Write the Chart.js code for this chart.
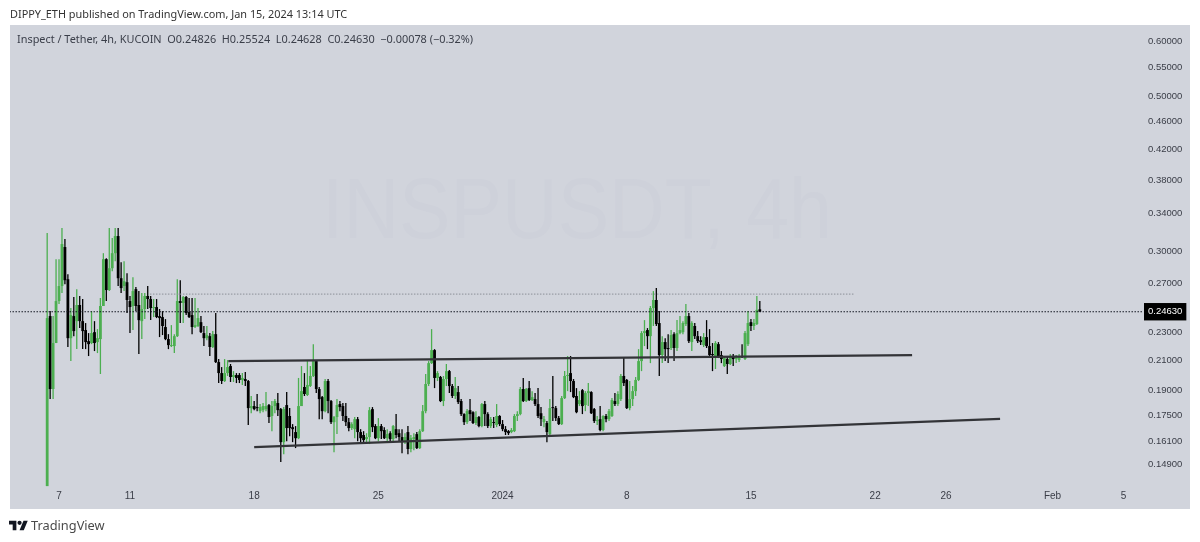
<!DOCTYPE html>
<html>
<head>
<meta charset="utf-8">
<script src="https://cdn.jsdelivr.net/npm/chart.js@4/dist/chart.umd.js"></script>
<style>
  html, body { margin: 0; padding: 0; background: #fff; width: 1200px; height: 542px; overflow: hidden; }
  #myChart { position: absolute; left: 0; top: 0; }
  .txt { position: absolute; font-family: "Noto Sans", sans-serif; white-space: pre; }
  #published { left: 10px; top: 6px; font-size: 10.9px; color: #333; }
  #ohlc { left: 17px; top: 31px; font-size: 10.9px; color: #3a3e49; }
  #tvName { left: 31px; top: 516px; font-size: 12.8px; color: #4a4a4a; }
  #tvLogo { position: absolute; left: 9px; top: 518px; }
</style>
</head>
<body>
<canvas id="myChart" width="1200" height="542"></canvas>
<div class="txt" id="published">DIPPY_ETH published on TradingView.com, Jan 15, 2024 13:14 UTC</div>
<div class="txt" id="ohlc">Inspect / Tether, 4h, KUCOIN  O0.24826  H0.25524  L0.24628  C0.24630  −0.00078 (−0.32%)</div>
<svg id="tvLogo" width="19" height="15" viewBox="0 2 36 22"><path fill="#131722" d="M14 22H7V11H0V4h14v18zM28 22h-8l7.5-18h8L28 22z"/><circle fill="#131722" cx="20" cy="8" r="4"/></svg>
<div class="txt" id="tvName">TradingView</div>
<script>
// 4h candles, first one is Dec 6 2023 08:00 UTC
const firstCandle = Date.UTC(2023, 11, 6, 8)

const opens = [
  .1388, .2428, .1910, .2222, .2551, .2680, .3047, .2741, .2258, .2428,
  .2388, .2518, .2388, .2319, .2236, .2222, .2303, .2229, .2251, .2510,
  .2928, .2645, .2842, .2986, .3159, .2750, .2680, .2714, .2551, .2510,
  .2653, .2518, .2388, .2485, .2594, .2568, .2493, .2501, .2428, .2420,
  .2342, .2251, .2200, .2200, .2273, .2551, .2535, .2585, .2460, .2436,
  .2342, .2350, .2380, .2296, .2258, .2273, .2193, .2288, .2087, .2013,
  .1961, .2013, .2060, .1987, .2000, .2000, .1968, .1974, .1961, .1794,
  .1806, .1800, .1776, .1782, .1788, .1812, .1748, .1806, .1824, .1788,
  .1604, .1812, .1748, .1685, .1658, .1625, .1806, .1923, .1873, .1929,
  .1994, .2094, .1910, .1860, .1776, .1961, .1836, .1713, .1742, .1818,
  .1806, .1748, .1713, .1680, .1674, .1730, .1658, .1642, .1620, .1631,
  .1788, .1691, .1625, .1691, .1669, .1625, .1652, .1620, .1674, .1652,
  .1631, .1604, .1658, .1568, .1620, .1647, .1573, .1663, .1776, .1942,
  .2080, .2171, .1981, .1987, .1836, .1974, .2026, .1929, .1867, .1891,
  .1836, .1759, .1713, .1782, .1770, .1708, .1742, .1691, .1818, .1759,
  .1691, .1713, .1697, .1748, .1702, .1674, .1663, .1658, .1663, .1748,
  .1759, .1910, .1836, .1916, .1842, .1848, .1818, .1764, .1713, .1708,
  .1647, .1800, .1794, .1736, .1702, .1854, .1994, .2013, .1961, .1867,
  .1818, .1903, .1812, .1885, .1891, .1788, .1719, .1730, .1669, .1748,
  .1730, .1748, .1836, .1818, .1848, .1994, .1968, .1794, .1848, .1897,
  .1968, .2094, .2296, .2319, .2273, .2493, .2560, .2373, .2136, .2229,
  .2186, .2186, .2288, .2186, .2296, .2303, .2365, .2428, .2229, .2350,
  .2273, .2243, .2207, .2266, .2200, .2143, .2129, .2214, .2136, .2060,
  .2108, .2074, .2129, .2108, .2101, .2129, .2108, .2214, .2380, .2350,
  .2365, .24826
]
const highs = [
  .3191, .2468, .2428, .2928, .2928, .3243, .3128, .2787, .2493, .2585,
  .2653, .2594, .2568, .2373, .2296, .2468, .2388, .2326, .2577, .2986,
  .2937, .3243, .3138, .3243, .3243, .2899, .2908, .2796, .2594, .2759,
  .2671, .2636, .2619, .2619, .2680, .2594, .2568, .2568, .2485, .2468,
  .2404, .2288, .2357, .2288, .2741, .2732, .2594, .2594, .2577, .2577,
  .2577, .2493, .2428, .2350, .2350, .2296, .2311, .2452, .2108, .2053,
  .2108, .2101, .2074, .2026, .2013, .2013, .2013, .2020, .1968, .1867,
  .1836, .1879, .1818, .1824, .1891, .1818, .1836, .1848, .1885, .1794,
  .1800, .1891, .1794, .1702, .1691, .1981, .2060, .2013, .2094, .2060,
  .2214, .2094, .1923, .1867, .1974, .1974, .1842, .1748, .1848, .1836,
  .1824, .1824, .1736, .1713, .1742, .1742, .1674, .1663, .1652, .1800,
  .1800, .1702, .1736, .1702, .1685, .1674, .1663, .1697, .1759, .1674,
  .1674, .1652, .1691, .1642, .1652, .1658, .1674, .1812, .2007, .2094,
  .2326, .2178, .2026, .1994, .1994, .2074, .2033, .1942, .1987, .1929,
  .1848, .1764, .1788, .1848, .1776, .1776, .1748, .1824, .1836, .1770,
  .1742, .1742, .1818, .1753, .1725, .1691, .1669, .1680, .1759, .1776,
  .1923, .1981, .1916, .1961, .1897, .1885, .1916, .1800, .1748, .1719,
  .1848, .1994, .1806, .1748, .1867, .2026, .2129, .2129, .1974, .1916,
  .1897, .1910, .1897, .1948, .1897, .1794, .1748, .1806, .1753, .1759,
  .1788, .1854, .1885, .1897, .2007, .2115, .1974, .1961, .1929, .1987,
  .2178, .2311, .2396, .2334, .2510, .2636, .2662, .2468, .2273, .2258,
  .2288, .2319, .2303, .2396, .2428, .2388, .2526, .2452, .2388, .2373,
  .2311, .2273, .2296, .2396, .2326, .2222, .2236, .2229, .2164, .2129,
  .2122, .2143, .2143, .2136, .2143, .2214, .2311, .2468, .2404, .2404,
  .2594, .25524
]
const lows = [
  .1388, .1848, .1848, .2222, .2526, .2619, .2697, .2193, .2094, .2273,
  .2178, .2334, .2178, .2178, .2129, .2214, .2164, .2150, .2007, .2510,
  .2551, .2636, .2814, .2908, .2680, .2619, .2636, .2452, .2296, .2319,
  .2468, .2143, .2251, .2404, .2485, .2396, .2420, .2412, .2266, .2281,
  .2243, .2178, .2193, .2150, .2266, .2373, .2373, .2436, .2412, .2288,
  .2334, .2342, .2296, .2200, .2243, .2129, .2186, .2080, .1948, .1942,
  .1955, .1994, .1955, .1955, .1948, .1948, .1936, .1929, .1697, .1764,
  .1782, .1776, .1764, .1770, .1776, .1708, .1663, .1764, .1748, .1502,
  .1542, .1609, .1636, .1604, .1573, .1620, .1867, .1867, .1867, .1923,
  .1987, .1885, .1730, .1730, .1770, .1764, .1702, .1552, .1647, .1776,
  .1719, .1691, .1663, .1669, .1625, .1609, .1599, .1604, .1604, .1594,
  .1658, .1620, .1609, .1620, .1620, .1609, .1599, .1609, .1625, .1609,
  .1547, .1594, .1542, .1552, .1562, .1568, .1568, .1658, .1764, .1929,
  .2074, .1916, .1961, .1830, .1806, .1929, .1885, .1854, .1848, .1818,
  .1748, .1697, .1702, .1719, .1702, .1697, .1685, .1685, .1691, .1680,
  .1680, .1680, .1685, .1691, .1663, .1642, .1642, .1652, .1658, .1719,
  .1753, .1830, .1830, .1836, .1836, .1806, .1736, .1691, .1685, .1604,
  .1642, .1719, .1719, .1697, .1697, .1848, .1897, .1891, .1854, .1764,
  .1806, .1759, .1776, .1806, .1759, .1708, .1697, .1663, .1663, .1713,
  .1719, .1742, .1806, .1806, .1836, .1929, .1788, .1782, .1806, .1867,
  .1961, .2026, .2200, .2178, .2080, .2350, .2350, .1994, .2080, .2094,
  .2080, .2171, .2094, .2164, .2288, .2288, .2350, .2222, .2164, .2251,
  .2222, .2207, .2193, .2186, .2129, .2026, .2040, .2115, .2080, .2053,
  .2007, .2067, .2060, .2080, .2087, .2115, .2101, .2200, .2311, .2319,
  .2357, .24628
]
const closes = [
  .2412, .1910, .2222, .2551, .2680, .3077, .2732, .2258, .2436, .2311,
  .2518, .2388, .2311, .2229, .2214, .2296, .2222, .2258, .2510, .2928,
  .2645, .2842, .2986, .3159, .2750, .2662, .2723, .2560, .2501, .2636,
  .2510, .2396, .2485, .2594, .2568, .2493, .2501, .2420, .2412, .2350,
  .2251, .2207, .2207, .2273, .2551, .2535, .2585, .2452, .2420, .2342,
  .2357, .2412, .2303, .2258, .2281, .2193, .2288, .2087, .2013, .1961,
  .2013, .2053, .1987, .2000, .1981, .1968, .1981, .1961, .1794, .1806,
  .1788, .1794, .1800, .1806, .1806, .1742, .1806, .1836, .1782, .1604,
  .1788, .1680, .1680, .1674, .1625, .1806, .1897, .1879, .1936, .1994,
  .2094, .1910, .1848, .1776, .1961, .1836, .1713, .1742, .1812, .1800,
  .1748, .1713, .1680, .1702, .1730, .1658, .1625, .1615, .1631, .1782,
  .1685, .1625, .1691, .1663, .1625, .1647, .1620, .1691, .1642, .1631,
  .1604, .1631, .1568, .1625, .1631, .1573, .1663, .1776, .1942, .2080,
  .2171, .1981, .2013, .1836, .1974, .2026, .1929, .1867, .1916, .1830,
  .1759, .1713, .1776, .1759, .1708, .1742, .1691, .1818, .1759, .1691,
  .1730, .1708, .1748, .1702, .1674, .1658, .1652, .1669, .1748, .1759,
  .1910, .1836, .1910, .1842, .1860, .1818, .1748, .1730, .1730, .1658,
  .1794, .1794, .1736, .1702, .1854, .1994, .2000, .1961, .1860, .1770,
  .1842, .1806, .1885, .1897, .1764, .1719, .1725, .1669, .1748, .1730,
  .1776, .1842, .1818, .1879, .1994, .1948, .1794, .1848, .1897, .1968,
  .2094, .2296, .2311, .2273, .2493, .2560, .2365, .2136, .2229, .2178,
  .2178, .2281, .2186, .2296, .2319, .2373, .2428, .2236, .2373, .2273,
  .2236, .2229, .2266, .2200, .2136, .2136, .2222, .2129, .2108, .2115,
  .2074, .2129, .2108, .2122, .2129, .2122, .2296, .2373, .2350, .2373,
  .2478, .24630
]

const yTicks = [.6, .55, .5, .46, .42, .38, .34, .3, .27, .25, .2463, .23, .21, .19, .175, .161, .149]
const lastPrice = .2463

const xTickDates = [
  Date.UTC(2023, 11, 7), Date.UTC(2023, 11, 11), Date.UTC(2023, 11, 18), Date.UTC(2023, 11, 25),
  Date.UTC(2024, 0, 1), Date.UTC(2024, 0, 8), Date.UTC(2024, 0, 15), Date.UTC(2024, 0, 22),
  Date.UTC(2024, 0, 26), Date.UTC(2024, 1, 1), Date.UTC(2024, 1, 5)
]
const xTickLabels = ['7', '11', '18', '25', '2024', '8', '15', '22', '26', 'Feb', '5']

// hours since the first candle
const hoursOf = (t) => (t - firstCandle) / 3600000

const green = '#4caf50'
const black = '#000000'
const candleColor = (c) => (closes[c.dataIndex] >= opens[c.dataIndex] ? green : black)

const plotBg = {
  id: 'plotBg',
  beforeDraw(chart) {
    const c = chart.ctx
    c.save()
    c.fillStyle = '#d1d4dc'
    c.fillRect(10, 25, 1180, 484)
    c.fillStyle = '#ced1da'
    c.font = '86px "Liberation Sans"'
    c.textAlign = 'center'
    c.textBaseline = 'middle'
    c.fillText('INSPUSDT, 4h', 577, 214, 510)
    c.restore()
  },
}

const ctx = document.getElementById('myChart').getContext('2d')
new Chart(ctx, {
  plugins: [plotBg],
  data: {
    datasets: [
      {
        type: 'line',
        order: 1,
        data: [{ x: -51, y: lastPrice }, { x: 1481, y: lastPrice }],
        borderColor: '#131722',
        borderWidth: 1.2,
        borderDash: [1.5, 1.5],
        pointRadius: 0,
      },
      {
        // resistance, thin dotted grey
        type: 'line',
        order: 2,
        data: [{ x: 139, y: .2610 }, { x: 1092, y: .2610 }],
        borderColor: '#8c8f98',
        borderWidth: 1,
        borderDash: [1.5, 1.5],
        pointRadius: 0,
      },
      {
        type: 'line',
        order: 2,
        data: [{ x: 245, y: .2094 }, { x: 1170, y: .2136 }],
        borderColor: '#333438',
        borderWidth: 2.2,
        pointRadius: 0,
      },
      {
        type: 'line',
        order: 2,
        data: [{ x: 280, y: .1578 }, { x: 1289, y: .1731 }],
        borderColor: '#333438',
        borderWidth: 2.2,
        pointRadius: 0,
      },
      {
        type: 'bar',
        order: 3,
        grouped: false,
        barThickness: 2.8,
        minBarLength: 1,
        inflateAmount: 0,
        borderSkipped: false,
        backgroundColor: candleColor,
        data: opens.map((o, i) => ({ x: i * 4, y: [o, closes[i]] })),
      },
      {
        type: 'bar',
        order: 4,
        grouped: false,
        barThickness: 1.3,
        inflateAmount: 0,
        borderSkipped: false,
        backgroundColor: candleColor,
        data: lows.map((l, i) => ({ x: i * 4, y: [l, highs[i]] })),
      },
    ],
  },
  options: {
    responsive: false,
    animation: false,
    layout: { padding: { left: 10, top: 25, right: 10, bottom: 33 } },
    plugins: { legend: { display: false }, tooltip: { enabled: false } },
    scales: {
      x: {
        type: 'linear',
        offset: false,
        min: -50.3,
        max: 1481,
        grid: { display: false, drawTicks: false },
        border: { display: false },
        afterBuildTicks(scale) {
          scale.ticks = xTickDates.map((t) => ({ value: hoursOf(t) }))
        },
        afterFit(scale) {
          scale.height = 22
        },
        ticks: {
          autoSkip: false,
          maxRotation: 0,
          padding: 3,
          color: '#3a3d47',
          font: { family: '"Liberation Sans"', size: 10 },
          callback: (v, i) => xTickLabels[i],
        },
      },
      y: {
        type: 'logarithmic',
        position: 'right',
        min: .1384,
        max: .6324,
        grid: { display: false, drawTicks: false },
        border: { display: false },
        afterBuildTicks(scale) {
          scale.ticks = yTicks.map((v) => ({ value: v }))
        },
        afterFit(scale) {
          scale.width = 48
        },
        ticks: {
          autoSkip: false,
          padding: 6,
          font: { family: '"Liberation Sans"', size: 9.5 },
          color: (c) => (c.tick.value === lastPrice ? '#ffffff' : '#3a3d47'),
          showLabelBackdrop: (c) => c.tick.value === lastPrice,
          backdropColor: '#000000',
          backdropPadding: { x: 4, y: 3 },
          callback: (v) => v.toFixed(5),
        },
      },
    },
  },
})
</script>
</body>
</html>
